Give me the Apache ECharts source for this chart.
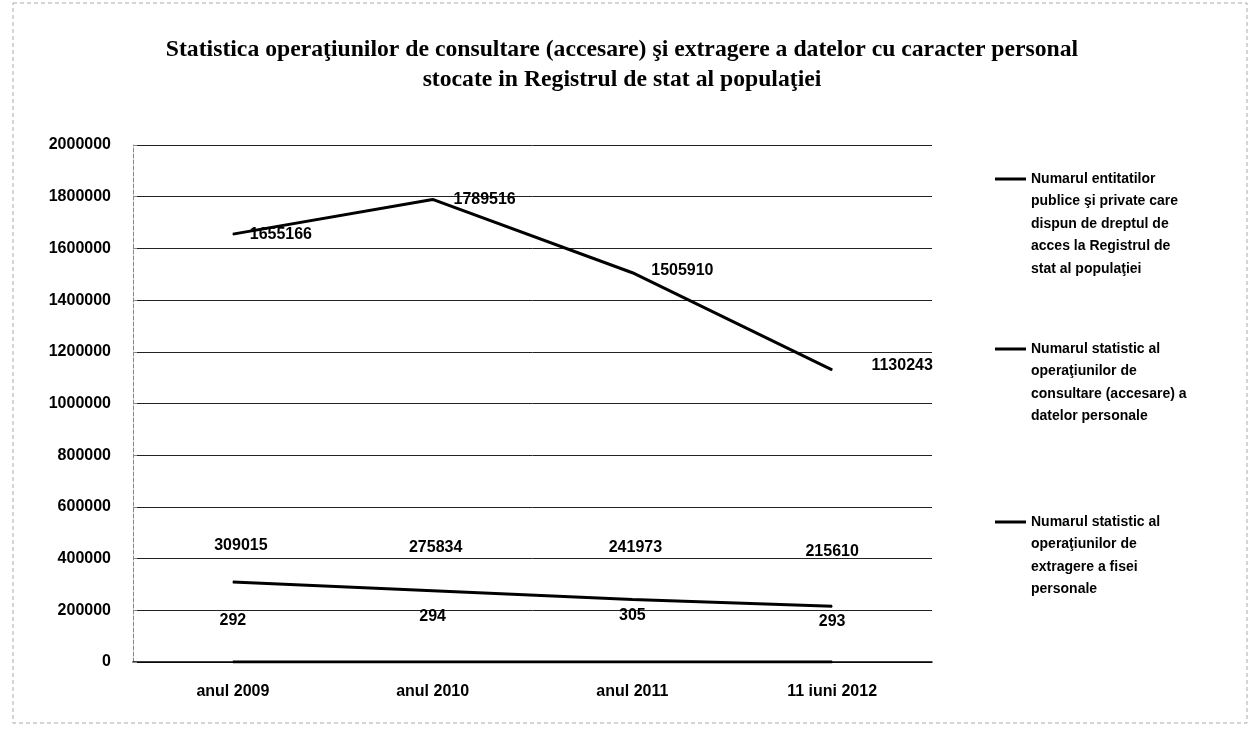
<!DOCTYPE html>
<html>
<head>
<meta charset="utf-8">
<script src="https://cdn.jsdelivr.net/npm/echarts@6/dist/echarts.min.js"></script>
<style>
  html, body { margin: 0; padding: 0; background: #fff; }
  #main { width: 1257px; height: 733px; }
</style>
</head>
<body>
<div id="main"></div>
<script>
// categorii si valori
const categories = ['anul 2009', 'anul 2010', 'anul 2011', '11 iuni 2012'];
const entitati = [292, 294, 305, 293];
const consultare = [1655166, 1789516, 1505910, 1130243];
const extragere = [309015, 275834, 241973, 215610];

const numeEntitati = 'Numarul entitatilor\npublice şi private care\ndispun de dreptul de\nacces la Registrul de\nstat al populaţiei';
const numeConsultare = 'Numarul statistic al\noperaţiunilor de\nconsultare (accesare) a\ndatelor personale';
const numeExtragere = 'Numarul statistic al\noperaţiunilor de\nextragere a fisei\npersonale';

// pozitia etichetelor (decalaj fata de punct)
const offConsultare = [[48, 0], [52, 0], [50, -2], [70, -4]];
const offExtragere = [[8, -37], [3, -43], [3, -52], [0, -55]];
const offEntitati = [[0, -41], [0, -45], [0, -46], [0, -40]];

const font = '"Liberation Sans", Arial, sans-serif';
const lh = 22.5;

function withLabels(values, offsets) {
  return values.map((v, i) => ({
    value: v,
    label: { offset: offsets[i] }
  }));
}

// legenda: linia scurta aliniata cu primul rand de text
function legendFor(name, iconY, lines) {
  return {
    orient: 'vertical',
    left: 995,
    top: iconY - (lines - 1) * lh - lh / 2,
    padding: 0,
    itemWidth: 31,
    itemHeight: 3,
    icon: 'rect',
    data: [{ name: name, itemStyle: { color: '#000' } }],
    formatter: n => '\n'.repeat(lines - 1) + n,
    textStyle: {
      fontFamily: font,
      fontWeight: 'bold',
      fontSize: 14,
      color: '#000',
      lineHeight: lh
    }
  };
}

const chart = echarts.init(document.getElementById('main'));

const labelBase = {
  show: true,
  position: 'inside',
  fontFamily: font,
  fontWeight: 'bold',
  fontSize: 16,
  color: '#000'
};

function lineSeries(name, values, offsets) {
  return {
    name: name,
    type: 'line',
    symbol: 'circle',
    symbolSize: 1,
    data: withLabels(values, offsets),
    lineStyle: { color: '#000', width: 3 },
    itemStyle: { color: '#000' },
    label: labelBase
  };
}

chart.setOption({
  animation: false,
  title: {
    text: 'Statistica operaţiunilor de consultare (accesare) şi extragere a datelor cu caracter personal\nstocate in Registrul de stat al populaţiei',
    left: 617,
    top: 30,
    textAlign: 'center',
    textStyle: {
      fontFamily: '"Liberation Serif", "Times New Roman", serif',
      fontWeight: 'bold',
      fontSize: 23.7,
      lineHeight: 30,
      color: '#000'
    }
  },
  legend: [
    legendFor(numeEntitati, 179, 5),
    legendFor(numeConsultare, 349, 4),
    legendFor(numeExtragere, 522, 4)
  ],
  grid: { left: 133, right: 325, top: 145, bottom: 71 },
  xAxis: {
    type: 'category',
    data: categories,
    boundaryGap: true,
    axisLine: { lineStyle: { color: '#000', width: 1.5 } },
    axisTick: { show: false },
    axisLabel: {
      fontFamily: font,
      fontWeight: 'bold',
      fontSize: 16,
      color: '#000',
      margin: 22
    }
  },
  yAxis: {
    type: 'value',
    min: 0,
    max: 2000000,
    interval: 200000,
    axisLine: { show: true, lineStyle: { color: '#888', type: 'dashed' } },
    axisTick: { show: true, length: 4, inside: true, lineStyle: { color: '#888' } },
    axisLabel: {
      fontFamily: font,
      fontWeight: 'bold',
      fontSize: 16,
      color: '#000',
      margin: 22,
      formatter: v => String(v)
    },
    splitLine: { lineStyle: { color: '#222', width: 1 } }
  },
  graphic: [{
    type: 'rect',
    shape: { x: 13, y: 3, width: 1234, height: 720 },
    style: { fill: 'none', stroke: '#aaa', lineWidth: 1, lineDash: [4, 3] },
    silent: true
  }],
  series: [
    lineSeries(numeEntitati, entitati, offEntitati),
    lineSeries(numeConsultare, consultare, offConsultare),
    lineSeries(numeExtragere, extragere, offExtragere)
  ]
});
</script>
</body>
</html>
